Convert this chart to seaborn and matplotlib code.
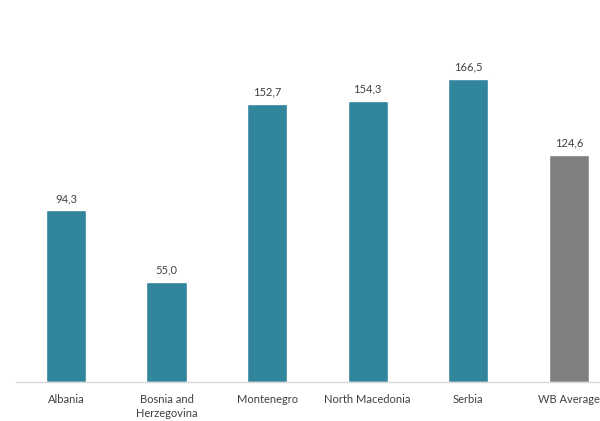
import matplotlib
matplotlib.use("Agg")
import matplotlib.pyplot as plt
import seaborn as sns
import pandas as pd

categories = ["Albania", "Bosnia and\nHerzegovina", "Montenegro", "North Macedonia", "Serbia", "WB Average"]
values = [94.3, 55.0, 152.7, 154.3, 166.5, 124.6]
colors = ["#31859C", "#31859C", "#31859C", "#31859C", "#31859C", "#808080"]

sns.set_theme(style="white")
plt.rcParams['font.family'] = ['Lato', 'DejaVu Sans']

df = pd.DataFrame({"cat": categories, "val": values})
fig = plt.figure(figsize=(6, 4.21), dpi=100)
ax = fig.add_axes([0.026, 0.0927, 1.006, 0.8646])
sns.barplot(data=df, x="cat", y="val", hue="cat", palette=colors, width=0.4, legend=False, ax=ax, saturation=1)
ax.set_ylim(0, 200)
ax.set_xlim(-0.5, 5.5)
for i, v in enumerate(values):
    ax.text(i, v + 3.5, f"{v:.1f}".replace(".", ","), ha="center", va="bottom", fontsize=8, color="#404040")
ax.set_xlabel("")
ax.set_ylabel("")
ax.set_yticks([])
for s in ["top", "right", "left"]:
    ax.spines[s].set_visible(False)
ax.spines["bottom"].set_color("#D9D9D9")
ax.spines["bottom"].set_linewidth(1)
ax.tick_params(axis="x", length=0, pad=9, labelsize=8, labelcolor="#404040")
for lbl in ax.get_xticklabels():
    lbl.set_linespacing(1.3)
fig.savefig("out.png", dpi=100)
